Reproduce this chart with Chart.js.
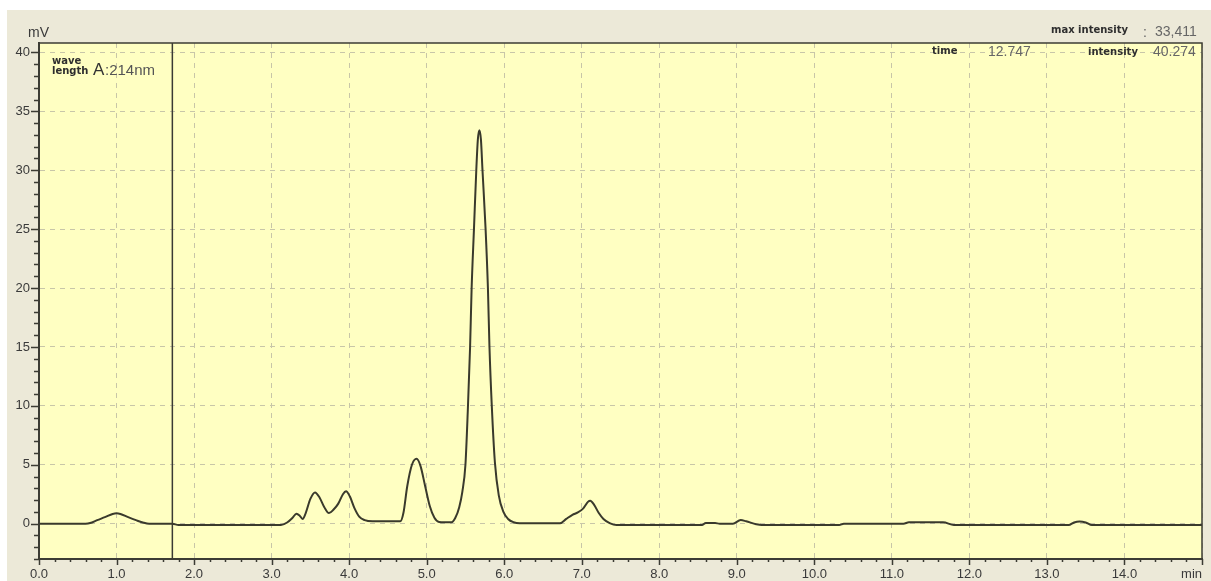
<!DOCTYPE html>
<html>
<head>
<meta charset="utf-8">
<script src="https://cdn.jsdelivr.net/npm/chart.js@4/dist/chart.umd.min.js"></script>
<style>
  html, body { margin: 0; padding: 0; background: #ffffff; }
  canvas { display: block; }
</style>
</head>
<body>
<canvas id="chromatogram" width="1211" height="581"></canvas>
<script>
// Retention time (min) and detector signal (mV) of the trace at 214 nm
const retentionTime = [
  0.00, 0.60, 0.66, 0.75, 0.85, 0.95, 1.00, 1.05, 1.15, 1.25, 1.35, 1.42,
  1.72, 1.80, 3.12, 3.20, 3.27, 3.32, 3.36, 3.40, 3.44, 3.50, 3.56, 3.62,
  3.68, 3.74, 3.80, 3.86, 3.92, 3.96, 4.01, 4.07, 4.13, 4.20, 4.30, 4.66,
  4.70, 4.75, 4.81, 4.87, 4.92, 4.98, 5.04, 5.10, 5.16, 5.32, 5.37, 5.42,
  5.46, 5.50, 5.53, 5.56, 5.58, 5.61, 5.64, 5.66, 5.68, 5.70, 5.72, 5.76,
  5.79, 5.81, 5.84, 5.88, 5.93, 5.99, 6.05, 6.12, 6.20, 6.72, 6.80, 6.88,
  6.95, 7.02, 7.08, 7.11, 7.16, 7.22, 7.28, 7.36, 7.45, 8.55, 8.60, 8.72,
  8.78, 8.95, 9.05, 9.12, 9.25, 9.32, 10.32, 10.38, 11.15, 11.22, 11.66, 11.80,
  13.28, 13.35, 13.42, 13.50, 13.58, 15.00
];
const signalMv = [
  0.00, 0.00, 0.05, 0.30, 0.55, 0.82, 0.88, 0.82, 0.55, 0.30, 0.08, 0.00,
  0.00, -0.12, -0.12, 0.10, 0.50, 0.85, 0.70, 0.40, 0.90, 2.10, 2.65, 2.20,
  1.40, 0.90, 1.20, 1.70, 2.50, 2.75, 2.30, 1.30, 0.60, 0.30, 0.20, 0.20,
  0.90, 3.20, 5.00, 5.50, 4.90, 3.20, 1.50, 0.50, 0.15, 0.12, 0.50, 1.40,
  2.70, 5.00, 9.50, 15.0, 20.0, 25.0, 30.0, 32.6, 33.4, 32.6, 30.0, 25.0,
  20.0, 15.0, 10.0, 5.20, 2.40, 1.00, 0.40, 0.12, 0.03, 0.03, 0.40, 0.75,
  0.95, 1.30, 1.85, 1.95, 1.60, 0.90, 0.40, 0.05, -0.12, -0.12, 0.05, 0.05,
  0.00, 0.00, 0.30, 0.20, -0.05, -0.12, -0.12, 0.00, 0.00, 0.12, 0.12, -0.12,
  -0.12, 0.10, 0.18, 0.10, -0.12, -0.12
];

// Cursor position (min) and axis layout values
const cursorTime = 1.72;
const timeRange = [0, 15];
const signalRange = [-3, 40.8];
const timeLabels = ['0.0', '1.0', '2.0', '3.0', '4.0', '5.0', '6.0', '7.0',
  '8.0', '9.0', '10.0', '11.0', '12.0', '13.0', '14.0', 'min'];
const signalLabels = ['0', '5', '10', '15', '20', '25', '30', '35', '40'];

const tracePoints = retentionTime.map((t, i) => ({ x: t, y: signalMv[i] }));
const cursorPoints = [{ x: cursorTime, y: signalRange[0] }, { x: cursorTime, y: signalRange[1] }];

const isWhole = (v, step) => Math.abs(v / step - Math.round(v / step)) < 1e-6;
const GRID = '#c8c6a8';
const INK = '#3a3a3a';
const FRAME = '#3c3c34';

// Panel backgrounds, frame, tick marks and header texts
const panelPlugin = {
  id: 'panel',
  beforeDraw(chart) {
    const { ctx, chartArea: a } = chart;
    ctx.save();
    ctx.fillStyle = '#ffffff';
    ctx.fillRect(0, 0, chart.width, chart.height);
    ctx.fillStyle = '#ece9d8';
    ctx.fillRect(7, 10, chart.width - 7, chart.height - 10);
    ctx.fillStyle = '#ffffc2';
    ctx.fillRect(a.left, a.top, a.right - a.left, a.bottom - a.top);
    ctx.restore();
  },
  afterDraw(chart) {
    const { ctx, chartArea: a, scales } = chart;
    const xs = scales.x, ys = scales.y;
    ctx.save();
    // frame
    ctx.strokeStyle = FRAME;
    ctx.lineWidth = 1.5;
    ctx.strokeRect(a.left, a.top, a.right - a.left, a.bottom - a.top);
    ctx.lineWidth = 2;
    ctx.beginPath();
    ctx.moveTo(a.left, a.top); ctx.lineTo(a.left, a.bottom); ctx.lineTo(a.right, a.bottom);
    ctx.stroke();

    // tick marks
    ctx.lineWidth = 1.5;
    ctx.strokeStyle = FRAME;
    ctx.beginPath();
    xs.ticks.forEach(tk => {
      const px = Math.round(xs.getPixelForValue(tk.value)) + 0.5;
      const len = isWhole(tk.value, 1) ? 6 : 3;
      ctx.moveTo(px, a.bottom); ctx.lineTo(px, a.bottom + len);
    });
    ys.ticks.forEach(tk => {
      const py = Math.round(ys.getPixelForValue(tk.value)) + 0.5;
      const len = isWhole(tk.value, 5) ? 8 : 5;
      ctx.moveTo(a.left, py); ctx.lineTo(a.left - len, py);
    });
    ctx.stroke();

    // tick labels
    ctx.fillStyle = INK;
    ctx.font = '13px "Liberation Sans", Arial, sans-serif';
    ctx.textBaseline = 'middle';
    timeLabels.forEach((lab, i) => {
      const px = xs.getPixelForValue(i);
      ctx.textAlign = lab === 'min' ? 'right' : 'center';
      ctx.fillText(lab, px, 574);
    });
    ctx.textAlign = 'right';
    signalLabels.forEach(lab => {
      ctx.fillText(lab, a.left - 9, ys.getPixelForValue(Number(lab)));
    });
    ctx.textAlign = 'left';
    ctx.font = '14px "Liberation Sans", Arial, sans-serif';
    ctx.fillText('mV', 28, 33);

    // wavelength caption
    ctx.font = 'bold 10px "DejaVu Sans", Verdana, sans-serif';
    ctx.fillStyle = '#2e2e2e';
    ctx.fillText('wave', 52, 61);
    ctx.fillText('length', 52, 71);
    ctx.font = '17px "Liberation Sans", Arial, sans-serif';
    ctx.fillStyle = '#333333';
    ctx.fillText('A', 93, 70);
    ctx.font = '15px "Liberation Sans", Arial, sans-serif';
    ctx.fillStyle = '#555555';
    ctx.fillText(':214nm', 105, 71);

    // cursor readout
    ctx.font = 'bold 10px "DejaVu Sans", Verdana, sans-serif';
    ctx.fillStyle = '#2e2e2e';
    ctx.fillText('max intensity', 1051, 30);
    ctx.fillText('time', 932, 51);
    ctx.fillText('intensity', 1088, 52);
    ctx.font = '14px "Liberation Sans", Arial, sans-serif';
    ctx.fillStyle = '#666666';
    ctx.fillText(':', 1143, 33);
    ctx.fillText('33,411', 1155, 32);
    ctx.fillText('12.747', 988, 52);
    ctx.fillText('40.274', 1153, 52);
    ctx.restore();
  }
};

new Chart(document.getElementById('chromatogram'), {
  type: 'line',
  data: {
    datasets: [
      {
        label: 'A:214nm',
        data: tracePoints,
        borderColor: '#3a3a2c',
        borderWidth: 2,
        pointRadius: 0,
        cubicInterpolationMode: 'monotone',
        fill: false
      },
      {
        label: 'cursor',
        data: cursorPoints,
        borderColor: '#3a3a34',
        borderWidth: 1.5,
        pointRadius: 0,
        fill: false
      }
    ]
  },
  plugins: [panelPlugin],
  options: {
    responsive: false,
    animation: false,
    events: [],
    layout: { padding: { left: 0, top: 43, right: 9, bottom: 0 } },
    plugins: { legend: { display: false }, tooltip: { enabled: false }, title: { display: false } },
    scales: {
      x: {
        type: 'linear',
        min: timeRange[0],
        max: timeRange[1],
        ticks: { display: false, stepSize: 0.2, autoSkip: false, includeBounds: false },
        grid: {
          drawTicks: false,
          lineWidth: 1,
          color: c => (c.tick && isWhole(c.tick.value, 1) ? GRID : 'rgba(0,0,0,0)')
        },
        border: { display: true, color: FRAME, width: 2, dash: [5, 5] },
        afterFit: s => { s.height = 22; }
      },
      y: {
        type: 'linear',
        min: signalRange[0],
        max: signalRange[1],
        ticks: { display: false, stepSize: 1, autoSkip: false, includeBounds: false },
        grid: {
          drawTicks: false,
          lineWidth: 1,
          color: c => (c.tick && isWhole(c.tick.value, 5) ? GRID : 'rgba(0,0,0,0)')
        },
        border: { display: true, color: FRAME, width: 2, dash: [5, 5] },
        afterFit: s => { s.width = 39; }
      }
    }
  }
});
</script>
</body>
</html>
